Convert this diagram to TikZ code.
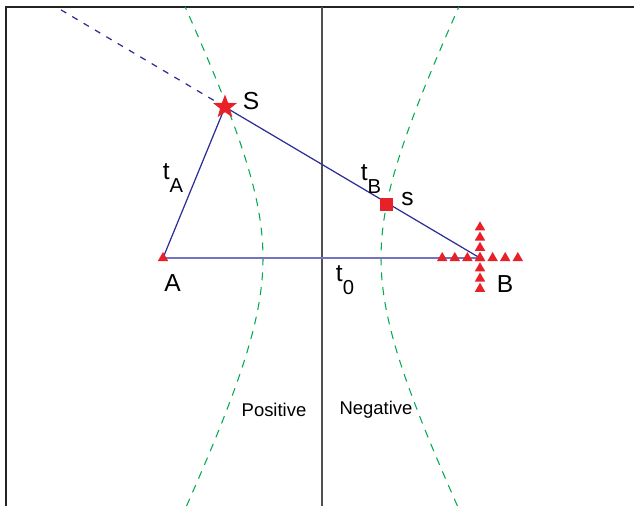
\documentclass[tikz,border=0pt]{standalone}
\usepackage{fontspec}
\setmainfont{Liberation Sans}
\usepackage{tikz}
\usetikzlibrary{shapes.geometric, calc}
\definecolor{MarkRed}{RGB}{232,32,40}
\definecolor{LineBlue}{RGB}{45,45,150}
\definecolor{BaseBlue}{RGB}{115,115,195}
\definecolor{HypGreen}{RGB}{0,170,80}
\definecolor{AxisGray}{RGB}{80,80,80}
\definecolor{FrameGray}{RGB}{35,35,35}

\newcommand{\tsub}[1]{t\raisebox{-0.55em}{\fontsize{11.5}{13}\selectfont #1}}

\begin{document}
\begin{tikzpicture}[
      tri/.style={regular polygon, regular polygon sides=3, minimum size=0.24cm,
                  inner sep=0pt, fill=MarkRed},
      lbl/.style={font=\fontsize{14}{16}\selectfont, inner sep=0pt},
      zone/.style={font=\fontsize{10.5}{12}\selectfont, inner sep=0pt},
      hyp/.style={draw=HypGreen, line width=0.6pt, dash pattern=on 4.5pt off 4pt},
      ray/.style={draw=LineBlue, line width=0.7pt}
    ]
    \useasboundingbox (0,0) rectangle (12.68,10.12);
    \draw[FrameGray, line width=1.1pt] (0.12,0) -- (0.12,9.98) -- (12.68,9.98);
    \draw[AxisGray, line width=0.6pt] (6.44,0) -- (6.44,9.98);

    % the two branches
    \foreach \a in {-1.18, 1.18}{
      \draw[hyp] plot[domain=0:9.98, samples=60]
            ({6.44+(\a)*sqrt(1+((\x-4.96)/2.4)^2)}, \x);
    }

    \coordinate (A) at (3.26, 4.96);
    \coordinate (B) at (9.60, 4.96);
    \coordinate (S) at (4.50, 7.98);
    \coordinate (top) at ($(B)!1.65!(S)$);

    \draw[BaseBlue, line width=0.9pt] (A) -- (B);
    \draw[ray] (A) -- (S) -- (B);
    \draw[ray, dash pattern=on 3.5pt off 4pt] (S) -- (top);

    \node[tri] (mA) at (A) {};
    \foreach \k in {-3,...,3}{
      \node[tri] (h\k) at ($(B)+(0.252*\k,0)$) {};
      \node[tri] (v\k) at ($(B)+(0,0.205*\k)$) {};
    }
    \node[star, star points=5, star point ratio=2.4, minimum size=0.5cm,
          inner sep=0pt, fill=MarkRed] (mS) at (S) {};
    \node[rectangle, minimum size=0.26cm, inner sep=0pt, fill=MarkRed]
          (ms) at (7.72, 6.03) {};

    \node[lbl] (labS)  at (5.02, 8.10) {S};
    \node[lbl] (labs)  at (8.15, 6.14) {s};
    \node[lbl] (labtA) at (3.46, 6.56) {\tsub{A}};
    \node[lbl] (labtB) at (7.42, 6.54) {\tsub{B}};
    \node[lbl] (labt0) at (6.90, 4.52) {\tsub{0}};
    \node[lbl] (labA)  at (3.45, 4.45) {A};
    \node[lbl] (labB)  at (10.10,4.44) {B};

    \node[zone] (pos) at (5.48, 1.92) {Positive};
    \node[zone] (neg) at (7.52, 1.92) {Negative};
  \end{tikzpicture}
\end{document}
